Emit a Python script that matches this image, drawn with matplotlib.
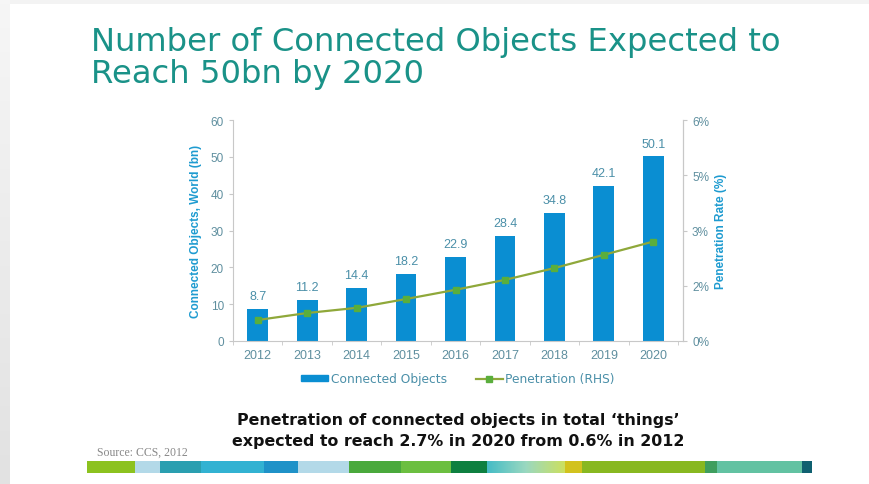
import matplotlib
matplotlib.use("Agg")
import matplotlib.pyplot as plt
from matplotlib.patches import Rectangle
from matplotlib.lines import Line2D
from matplotlib.colors import LinearSegmentedColormap
import numpy as np

plt.rcParams['font.family'] = ['Liberation Sans', 'DejaVu Sans']

years = ["2012", "2013", "2014", "2015", "2016", "2017", "2018", "2019", "2020"]
connected_bn = [8.7, 11.2, 14.4, 18.2, 22.9, 28.4, 34.8, 42.1, 50.1]
penetration_pct = [0.57, 0.76, 0.90, 1.14, 1.39, 1.66, 1.98, 2.34, 2.70]
left_ticks = [0, 10, 20, 30, 40, 50, 60]
right_ticks = [0, 1.5, 3, 4.5, 6]
right_tick_labels = ["0%", "2%", "3%", "5%", "6%"]

W, H = 869, 485
fig = plt.figure(figsize=(W / 100, H / 100), dpi=100)
fig.patch.set_facecolor("white")

# background frame (light gray edges)
bg = fig.add_axes([0, 0, 1, 1], zorder=-10)
bg.set_xlim(0, W); bg.set_ylim(H, 0); bg.axis("off")
edge = LinearSegmentedColormap.from_list("e", ["#f6f6f6", "#e2e2e2"])
bg.imshow(np.linspace(0, 1, 100)[:, None], cmap=edge, aspect="auto",
          extent=(0, 10, H, 0), zorder=0)
bg.add_patch(Rectangle((10, 0), W - 10, 5, color="#f3f3f3", lw=0))

def fx(x):
    return x / W

def fy(y):
    return 1 - y / H

# Title
title_col = "#1a9288"
fig.text(fx(91), fy(51), "Number of Connected Objects Expected to", fontsize=23.2,
         color=title_col, ha="left", va="baseline", family="DejaVu Sans")
fig.text(fx(91), fy(83), "Reach 50bn by 2020", fontsize=23.2,
         color=title_col, ha="left", va="baseline", family="DejaVu Sans")

# Main axes
x0, x1, ytop, ybot = 233, 683, 121, 342
ax = fig.add_axes([fx(x0), fy(ybot), (x1 - x0) / W, (ybot - ytop) / H])
x = np.arange(len(years))
bar_col = "#0a8ed2"
ax.bar(x, connected_bn, width=0.42, color=bar_col, zorder=2)
ax.set_xlim(-0.5, len(years) - 0.4)
ax.set_ylim(0, 60)
ax.set_yticks(left_ticks)
tick_col = "#5f8f9f"
ax.tick_params(axis="y", colors="#c8c8c8", labelcolor=tick_col, labelsize=8.5,
               length=3, direction="out")
ax.set_xticks(x)
ax.set_xticklabels(years)
ax.tick_params(axis="x", length=0, labelcolor=tick_col, labelsize=9, pad=6)
ax.set_xticks(np.arange(-0.5, len(years), 1.0), minor=True)
ax.tick_params(axis="x", which="minor", length=3, color="#c8c8c8", direction="out")
ax.spines["top"].set_visible(False)
for s in ["left", "right", "bottom"]:
    ax.spines[s].set_color("#c8c8c8")
    ax.spines[s].set_linewidth(0.8)
ax.set_ylabel("Connected Objects, World (bn)", color="#1e9bd0", fontsize=8.5,
              fontweight="bold", labelpad=6)

for xi, v in zip(x, connected_bn):
    ax.annotate(f"{v:.1f}", (xi, v), xytext=(0, 5), textcoords="offset points",
                ha="center", va="bottom", fontsize=9, color="#4a8fa8")

ax2 = ax.twinx()
ax2.set_ylim(0, 6)
ax2.set_yticks(right_ticks)
ax2.set_yticklabels(right_tick_labels)
ax2.tick_params(axis="y", colors="#c8c8c8", labelcolor=tick_col, labelsize=8.5,
                length=3, direction="out")
for s in ["top", "left", "bottom"]:
    ax2.spines[s].set_visible(False)
ax2.spines["right"].set_color("#c8c8c8")
ax2.spines["right"].set_linewidth(0.8)
line_col = "#8fa83a"
mk_col = "#5aae3c"
ax2.plot(x, penetration_pct, color=line_col, lw=1.6, marker="s", markersize=4,
         markerfacecolor=mk_col, markeredgecolor=mk_col, zorder=3)
ax2.set_ylabel("Penetration Rate (%)", color="#1e9bd0", fontsize=8.5,
               fontweight="bold", labelpad=4)

# Legend
handles = [Rectangle((0, 0), 1, 1, color=bar_col),
           Line2D([0], [0], color=line_col, lw=1.6, marker="s", markersize=4,
                  markerfacecolor=mk_col, markeredgecolor=mk_col)]
leg = fig.legend(handles, ["Connected Objects", "Penetration (RHS)"],
                 loc="center", bbox_to_anchor=(fx(458), fy(380)), ncol=2,
                 frameon=False, handlelength=2.2, handleheight=0.4,
                 handletextpad=0.2, columnspacing=2.4,
                 prop={"family": "DejaVu Sans", "size": 8.8})
for t in leg.get_texts():
    t.set_color("#4a8fa8")

# Footnote text
fig.text(fx(458), fy(425), "Penetration of connected objects in total \u2018things\u2019",
         fontsize=11.4, fontweight="bold", color="#111111", ha="center", va="baseline",
         family="DejaVu Sans")
fig.text(fx(458), fy(446), "expected to reach 2.7% in 2020 from 0.6% in 2012",
         fontsize=11.4, fontweight="bold", color="#111111", ha="center", va="baseline",
         family="DejaVu Sans")
fig.text(fx(97), fy(456), "Source: CCS, 2012", fontsize=8.5, color="#888888",
         family="Liberation Serif", ha="left", va="baseline")

# Decorative stripe
stripe = [(87, 135, "#8cc21f"), (135, 160, "#b3d9e8"), (160, 201, "#2a9fb0"),
          (201, 264, "#32b2d2"), (264, 298, "#1f92c8"), (298, 349, "#b3d9e8"),
          (349, 401, "#4aa93c"), (401, 451, "#6cbf40"), (451, 487, "#0e8040"),
          (565, 582, "#d2c21e"), (582, 705, "#88b820"), (705, 717, "#3f9e5e"),
          (717, 802, "#62c2a2"), (802, 812, "#0f6070")]
for a, b, c in stripe:
    bg.add_patch(Rectangle((a, 462), b - a, 12, color=c, lw=0))
grad = LinearSegmentedColormap.from_list("g", ["#45bcc6", "#9ad8c0", "#cce060"])
bg.imshow(np.linspace(0, 1, 100)[None, :], cmap=grad, aspect="auto",
          extent=(487, 565, 474, 462), zorder=1)
bg.set_xlim(0, W); bg.set_ylim(H, 0)

fig.savefig("out.png", dpi=100, facecolor="white")
